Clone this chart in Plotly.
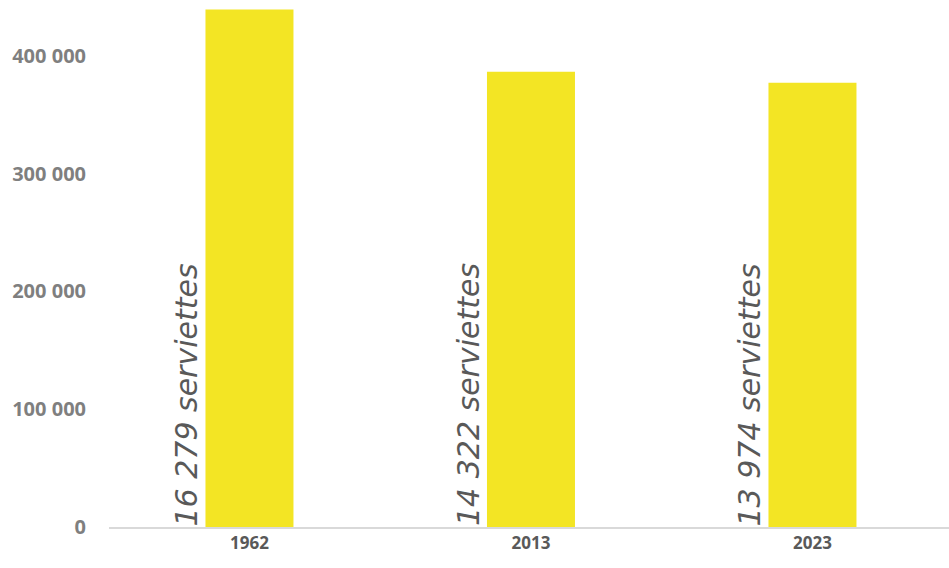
import plotly.graph_objects as go

categories = ["1962", "2013", "2023"]
values = [439533, 386694, 377298]
labels = ["16 279 serviettes", "14 322 serviettes", "13 974 serviettes"]
tick_vals = [0, 100000, 200000, 300000, 400000]
tick_text = ["0", "100 000", "200 000", "300 000", "400 000"]

fig = go.Figure()
fig.add_trace(go.Bar(x=categories, y=values, marker=dict(color="#F3E524", line=dict(width=0)),
                     width=0.3126, hoverinfo="skip"))

for i, t in enumerate(labels):
    fig.add_annotation(x=i, y=0, xref="x", yref="paper", text=t, showarrow=False,
                       textangle=-90, xanchor="right", yanchor="bottom", xshift=-43, yshift=-1,
                       font=dict(family="DejaVu Sans", size=30, color="#595959",
                                 style="italic", weight=200))

fig.update_layout(
    width=949, height=568,
    margin=dict(l=109, r=0, t=3, b=41),
    plot_bgcolor="white", paper_bgcolor="white",
    showlegend=False,
    xaxis=dict(type="category", showgrid=False, showline=True, linecolor="#D9D9D9", linewidth=1.5,
               ticks="", tickfont=dict(family="Open Sans", size=17, color="#595959", weight="bold"),
               range=[-0.499, 2.485]),
    yaxis=dict(range=[0, 445000], showgrid=False, zeroline=False, showline=False,
               tickvals=tick_vals, ticktext=tick_text, ticks="", ticklabelstandoff=22,
               tickfont=dict(family="Open Sans", size=20, color="#7F7F7F", weight="bold")),
)

fig.write_html("out.html")
